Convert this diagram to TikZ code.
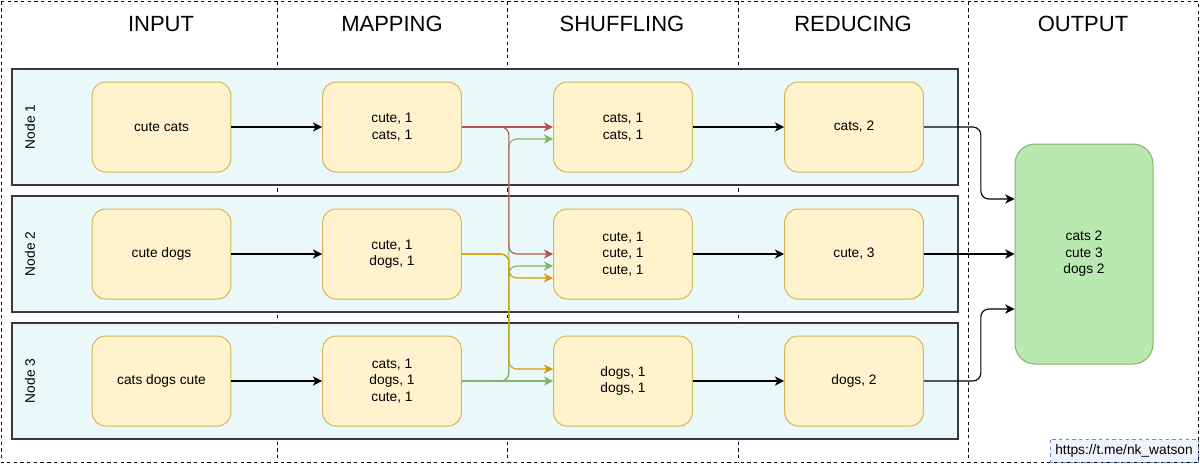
\documentclass[tikz,border=0pt]{standalone}
\usepackage{fontspec}
\setmainfont{Liberation Sans}
\usetikzlibrary{arrows.meta,positioning,calc}
\definecolor{lanefill}{RGB}{234,248,250}
\definecolor{laneline}{RGB}{54,57,61}
\definecolor{stepfill}{RGB}{255,242,204}
\definecolor{stepline}{RGB}{214,182,86}
\definecolor{outfill}{RGB}{185,233,176}
\definecolor{redline}{RGB}{184,84,80}
\definecolor{greenline}{RGB}{130,179,102}
\definecolor{yellowline}{RGB}{215,155,0}
\definecolor{tagfill}{RGB}{238,242,252}
\definecolor{tagline}{RGB}{108,142,191}

\begin{document}
\begin{tikzpicture}[x=0.75pt, y=-0.75pt,
    header/.style={font=\fontsize{16.5}{20}\selectfont},
    border/.style={dash pattern=on 2.5pt off 2.5pt, line width=0.75pt},
    lane/.style={rectangle, draw=laneline, line width=1.1pt, fill=lanefill,
        minimum width=709.5pt, minimum height=87pt},
    lanelabel/.style={rotate=90, font=\fontsize{10.3}{12.4}\selectfont},
    mrstep/.style={rectangle, draw=stepline, fill=stepfill, line width=0.75pt,
        rounded corners=10pt, minimum width=104pt, minimum height=67.5pt,
        align=center, font=\fontsize{10.3}{12.4}\selectfont},
    result/.style={rectangle, draw=greenline, fill=outfill, line width=0.75pt,
        rounded corners=15pt, minimum width=103.5pt, minimum height=165pt,
        align=center, font=\fontsize{10.3}{12.4}\selectfont},
    tag/.style={rectangle, draw=tagline, fill=tagfill, dash pattern=on 2.5pt off 2.5pt,
        line width=0.75pt, minimum width=111pt, minimum height=17.25pt,
        inner sep=0pt, font=\fontsize{10.3}{12.4}\selectfont},
    arr/.style={-{Stealth[length=7pt, width=7pt, inset=2pt]}, line width=0.85pt}
]
    \useasboundingbox (0,0) rectangle (1200,464);

    % Columns
    \draw[border] (1.5,1.5) rectangle (1198.5,462.5);
    \draw[border] (277,1.5) -- (277,462.5);
    \draw[border] (507,1.5) -- (507,462.5);
    \draw[border] (738,1.5) -- (738,462.5);
    \draw[border] (968,1.5) -- (968,462.5);
    \node[header] (hin) at (161,24) {INPUT};
    \node[header] (hmap) at (392,24) {MAPPING};
    \node[header] (hshf) at (622,24) {SHUFFLING};
    \node[header] (hred) at (853,24) {REDUCING};
    \node[header] (hout) at (1083,24) {OUTPUT};

    % Cluster nodes
    \node[lane] (row1) at (485,127) {};
    \node[lane] (row2) at (485,254) {};
    \node[lane] (row3) at (485,381) {};
    \node[lanelabel] (lab1) at (30,127) {Node 1};
    \node[lanelabel] (lab2) at (30,254) {Node 2};
    \node[lanelabel] (lab3) at (30,381) {Node 3};

    % Node 1
    \node[mrstep] (in1) at (161.5,127) {cute cats};
    \node[mrstep] (map1) at (392,127) {cute, 1\\cats, 1};
    \node[mrstep] (shf1) at (623,127) {cats, 1\\cats, 1};
    \node[mrstep] (red1) at (854,127) {cats, 2};

    % Node 2
    \node[mrstep] (in2) at (161.5,254) {cute dogs};
    \node[mrstep] (map2) at (392,254) {cute, 1\\dogs, 1};
    \node[mrstep] (shf2) at (623,254) {cute, 1\\cute, 1\\cute, 1};
    \node[mrstep] (red2) at (854,254) {cute, 3};

    % Node 3
    \node[mrstep] (in3) at (161.5,381) {cats dogs cute};
    \node[mrstep] (map3) at (392,381) {cats, 1\\dogs, 1\\cute, 1};
    \node[mrstep] (shf3) at (623,381) {dogs, 1\\dogs, 1};
    \node[mrstep] (red3) at (854,381) {dogs, 2};

    % Output
    \node[result] (out) at (1084,254) {cats 2\\cute 3\\dogs 2};
    \node[tag] (wm) at (1124,450.5) {https://t.me/nk\_watson};

    % Map and reduce
    \draw[arr] (in1) -- (map1);
    \draw[arr] (in2) -- (map2);
    \draw[arr] (in3) -- (map3);
    \draw[arr] (shf1) -- (red1);
    \draw[arr] (shf2) -- (red2);
    \draw[arr] (shf3) -- (red3);

    % Shuffle (green first, red and yellow on top)
    \draw[arr, greenline] (map3.east) -- (shf3.west);
    \draw[arr, greenline, rounded corners=6pt] (map3.east) -- ++(47,0) |- ($(shf1.west)+(0,12)$);
    \draw[arr, greenline, rounded corners=6pt] (map3.east) -- ++(47,0) |- ($(shf2.west)+(0,12)$);
    \draw[arr, redline] (map1.east) -- (shf1.west);
    \draw[arr, redline, rounded corners=6pt] (map1.east) -- ++(47,0) |- (shf2.west);
    \draw[arr, yellowline, rounded corners=6pt] (map2.east) -- ++(47,0) |- ($(shf2.west)+(0,24)$);
    \draw[arr, yellowline, rounded corners=6pt] (map2.east) -- ++(47,0) |- ($(shf3.west)+(0,-12)$);

    % Collect
    \draw[arr, rounded corners=6pt] (red1.east) -- ++(57,0) |- ($(out.west)+(0,-55)$);
    \draw[arr] (red2.east) -- (out.west);
    \draw[arr, rounded corners=6pt] (red3.east) -- ++(57,0) |- ($(out.west)+(0,55)$);
\end{tikzpicture}
\end{document}
